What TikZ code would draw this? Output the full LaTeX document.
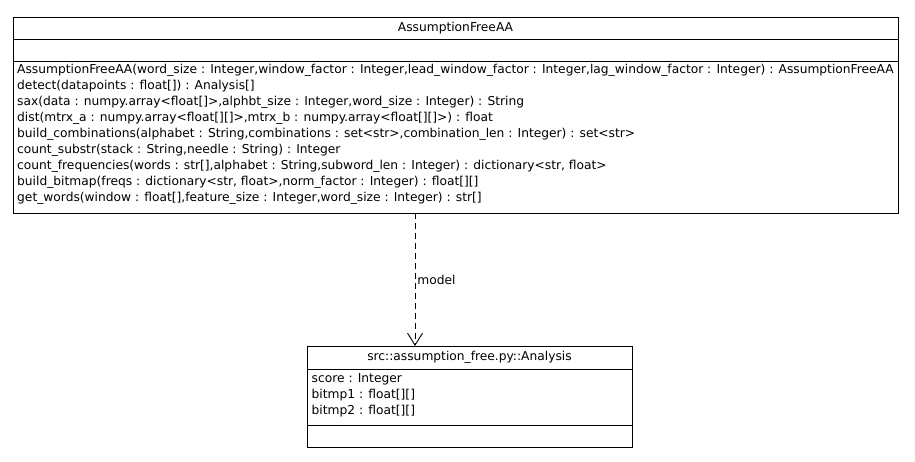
\documentclass[tikz,border=0pt]{standalone}
\usepackage{fontspec}
\setmainfont{DejaVu Sans}
\usetikzlibrary{matrix,positioning,arrows.meta}
\newfontfamily\umlfont{DejaVu Sans}
\tikzset{
umltxt/.style={
  font=\umlfont\fontsize{12.25}{14}\selectfont,
  inner sep=0pt
  },
compart/.style={
  draw=black,
  rectangle,
  anchor=north west,
  inner sep=0pt,
  outer sep=0pt,
  line width=0.9pt
  },
mymembers/.style={
  matrix of nodes,
  anchor=north west,
  nodes={umltxt, text height=11pt, text depth=5pt, anchor=west},
  row sep=0pt,
  inner sep=0pt
  }
}

\begin{document}
\begin{tikzpicture}[x=1pt,y=-1pt,>=latex]
\useasboundingbox[fill=white] (0,0) rectangle (915,461);

% class AssumptionFreeAA
\node[compart, umltxt, minimum width=885pt, minimum height=22pt] (aafName) at (13,17) {AssumptionFreeAA};
\node[compart, minimum width=885pt, minimum height=22pt] (aafAttr) at (aafName.south west) {};
\node[compart, minimum width=885pt, minimum height=152pt] (aafOps) at (aafAttr.south west) {};
\matrix[mymembers] at ([xshift=4pt, yshift=-1pt]aafOps.north west)
(aafOpsList)
{
  AssumptionFreeAA(word\_size : Integer,window\_factor : Integer,lead\_window\_factor : Integer,lag\_window\_factor : Integer) : AssumptionFreeAA \\
  detect(datapoints : float[]) : Analysis[] \\
  sax(data : numpy.array<float[]>,alphbt\_size : Integer,word\_size : Integer) : String \\
  dist(mtrx\_a : numpy.array<float[][]>,mtrx\_b : numpy.array<float[][]>) : float \\
  build\_combinations(alphabet : String,combinations : set<str>,combination\_len : Integer) : set<str> \\
  count\_substr(stack : String,needle : String) : Integer \\
  count\_frequencies(words : str[],alphabet : String,subword\_len : Integer) : dictionary<str, float> \\
  build\_bitmap(freqs : dictionary<str, float>,norm\_factor : Integer) : float[][] \\
  get\_words(window : float[],feature\_size : Integer,word\_size : Integer) : str[] \\
};

% class Analysis
\node[compart, umltxt, minimum width=325pt, minimum height=23pt] (anName) at (307,346) {src::assumption\_free.py::Analysis};
\node[compart, minimum width=325pt, minimum height=56pt] (anAttr) at (anName.south west) {};
\node[compart, minimum width=325pt, minimum height=22pt] (anOps) at (anAttr.south west) {};
\matrix[mymembers] at ([xshift=4.5pt, yshift=-2pt]anAttr.north west)
(anAttrList)
{
  score : Integer \\
  bitmp1 : float[][] \\
  bitmp2 : float[][] \\
};

% dependency
\coordinate (depStart) at (aafOps.south -| 415,0);
\coordinate (depEnd) at (anName.north -| 415,0);
\draw[dash pattern=on 6pt off 4pt, line width=0.9pt, -{Straight Barb[length=12pt, width=15pt]}] (depStart) -- (depEnd)
  node[umltxt, pos=0.5, anchor=west, xshift=2pt] {model};
\end{tikzpicture}
\end{document}
